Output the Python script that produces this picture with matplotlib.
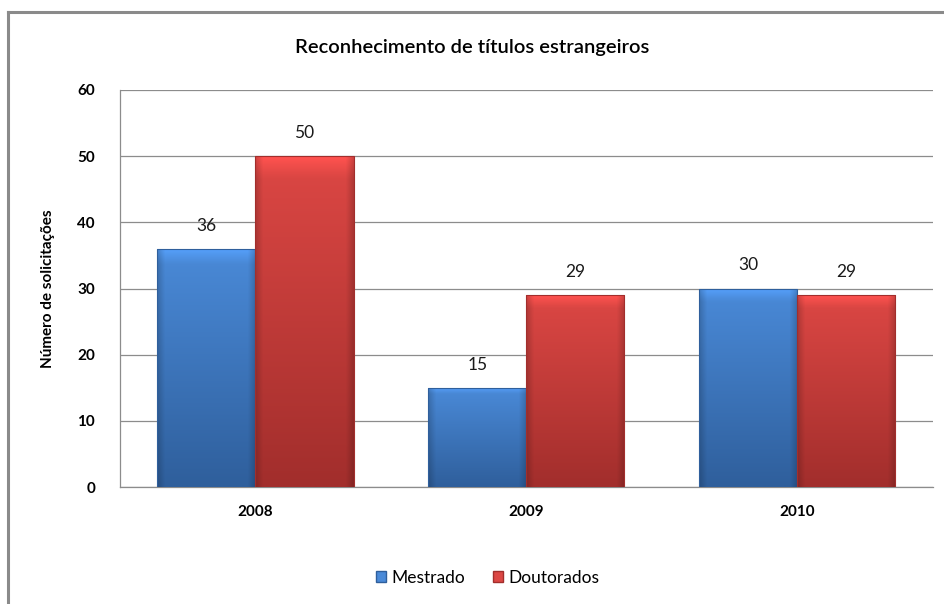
import numpy as np
import matplotlib
matplotlib.use("Agg")
import matplotlib.pyplot as plt
from matplotlib.colors import to_rgb
from matplotlib.patches import Rectangle

plt.rcParams['font.family'] = ['Lato', 'DejaVu Sans']

# dados
anos = ['2008', '2009', '2010']
mestrado = [36, 15, 30]
doutorados = [50, 29, 29]
series = ['Mestrado', 'Doutorados']
cores = {'Mestrado': ('#4a8ad8', '#2f5f9c'), 'Doutorados': ('#dc4744', '#a22e2c')}


def gradiente(c1, c2, n=64):
    # vertical (claro em cima) + bordas laterais escurecidas
    a = np.array(to_rgb(c1))
    b = np.array(to_rgb(c2))
    t = np.linspace(0, 1, n)[:, None, None]
    img = a * (1 - t) + b * t
    img = np.repeat(img, n, axis=1)
    s = np.linspace(-1, 1, n)
    edge = 1 - 0.18 * np.clip((np.abs(s) - 0.85) / 0.15, 0, 1)
    img = img * edge[None, :, None]
    top = 1 + 0.15 * np.clip((0.06 - np.linspace(0, 1, n)) / 0.06, 0, 1)
    img = np.clip(img * top[:, None, None], 0, 1)
    return img


fig = plt.figure(figsize=(9.45, 6.04), dpi=100)
ax = fig.add_axes([0.127, 0.1937, 0.86, 0.6573])

largura = 0.362
x = np.arange(len(anos))
for vals, nome, off in [(mestrado, 'Mestrado', -largura), (doutorados, 'Doutorados', 0)]:
    bars = ax.bar(x + off, vals, largura, align='edge', color='none',
                  edgecolor='none', zorder=3)
    for b, v in zip(bars, vals):
        x0 = b.get_x()
        img = gradiente(*cores[nome])
        im = ax.imshow(img, extent=(x0, x0 + largura, 0, v), aspect='auto',
                       zorder=3, interpolation='bilinear')
        im.set_clip_path(b)
        ax.add_patch(Rectangle((x0, 0), largura, v, fill=False,
                               edgecolor=cores[nome][1], lw=0.8, zorder=4))
        ax.text(x0 + largura / 2, v + 2.3, str(v), ha='center', va='bottom',
                fontsize=12.5, color='#1a1a1a')

ax.set_xlim(-0.5, 2.5)
ax.set_ylim(0, 60)
ax.set_yticks(range(0, 61, 10))
ax.set_xticks(x)
ax.set_xticklabels(anos)
ax.tick_params(axis='both', length=0, labelsize=11, pad=18)
ax.tick_params(axis='x', pad=13)
for lab in ax.get_xticklabels() + ax.get_yticklabels():
    lab.set_fontweight('bold')
ax.grid(axis='y', color='#8c8c8c', lw=0.9, zorder=0)
for s in ['top', 'right']:
    ax.spines[s].set_visible(False)
for s in ['left', 'bottom']:
    ax.spines[s].set_color('#8c8c8c')
    ax.spines[s].set_linewidth(0.9)

ax.set_ylabel('Número de solicitações', fontsize=11, fontweight='bold', labelpad=16)
fig.text(0.5, 0.922, 'Reconhecimento de títulos estrangeiros', ha='center',
         va='center', fontsize=14.5, fontweight='semibold')

# legenda
handles = [Rectangle((0, 0), 1, 1, facecolor=cores[n][0], edgecolor=cores[n][1]) for n in series]
fig.legend(handles, series, loc='center', bbox_to_anchor=(0.516, 0.043), ncol=2,
           frameon=False, fontsize=12.5, handlelength=0.6, handleheight=0.6,
           handletextpad=0.3, columnspacing=1.6)

# moldura do gráfico (cortada à direita e embaixo)
fig.add_artist(plt.Line2D([0.0085, 1.0], [0.980, 0.980], color='#8a8a8a', lw=2.2,
                          transform=fig.transFigure))
fig.add_artist(plt.Line2D([0.0085, 0.0085], [0.0, 0.980], color='#8a8a8a', lw=2.2,
                          transform=fig.transFigure))

fig.savefig('out.png', dpi=100)
